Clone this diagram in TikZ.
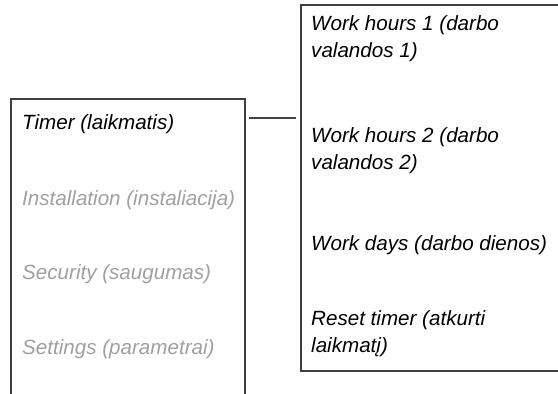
\documentclass[tikz,border=0pt]{standalone}
\usepackage{fontspec}
\setmainfont{Liberation Sans}
\usetikzlibrary{positioning}
\definecolor{framegray}{HTML}{404040}
\definecolor{itemgray}{HTML}{A0A0A0}
\tikzset{
  item/.style={anchor=base west,inner sep=0pt,align=left,
               font=\fontsize{20.6}{27}\selectfont\itshape},
  active/.style={item,text=black},
  inactive/.style={item,text=itemgray},
  frame/.style={draw=framegray,line width=1.1pt},
  link/.style={draw=framegray,line width=1.1pt},
}
\begin{document}
\begin{tikzpicture}[x=1pt,y=1pt]
  \useasboundingbox (0,0) rectangle (558,-394);
  % ---- main menu (left) ----
  \node[active] (timer) at (22,-129) {Timer (laikmatis)};
  \node[inactive] (install) at (22,-205) {Installation (instaliacija)};
  \node[inactive] (security) at (22,-279) {Security (saugumas)};
  \node[inactive] (settings) at (22,-354) {Settings (parametrai)};
  \draw[frame] (11,-394) -- (11,-99) -- (245,-99) -- (245,-394);
  % ---- timer submenu (right), base = last line ----
  \node[active] (hoursA) at (311,-57) {Work hours 1 (darbo\\valandos 1)};
  \node[active] (hoursB) at (311,-169) {Work hours 2 (darbo\\valandos 2)};
  \node[active] (days) at (311,-250) {Work days (darbo dienos)};
  \node[active] (reset) at (311,-352) {Reset timer (atkurti\\laikmatį)};
  \draw[frame] (558,-5) -- (301,-5) -- (301,-371) -- (558,-371);
  % ---- connector ----
  \coordinate (menuR) at (249,-118);
  \coordinate (subL) at (296,-118);
  \draw[link] (menuR) -- (subL);
\end{tikzpicture}
\end{document}
